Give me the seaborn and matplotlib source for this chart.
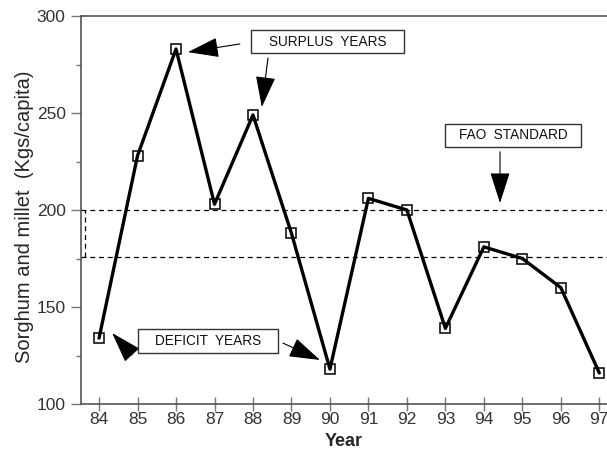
import matplotlib
matplotlib.use("Agg")
import matplotlib.pyplot as plt
import seaborn as sns
import pandas as pd
from matplotlib.ticker import MultipleLocator
from matplotlib.patches import Rectangle

years = [84, 85, 86, 87, 88, 89, 90, 91, 92, 93, 94, 95, 96, 97]
values = [134, 228, 283, 203, 249, 188, 118, 206, 200, 139, 181, 175, 160, 116]
year_labels = ["84", "85", "86", "87", "88", "89", "90", "91", "92", "93", "94", "95", "96", "97"]
fao_upper = 200
fao_lower = 176

sns.set_theme(style="white")
plt.rcParams['font.family'] = ['Liberation Sans', 'DejaVu Sans']

df = pd.DataFrame({"Year": years, "Value": values})

fig = plt.figure(figsize=(6.07, 4.5), dpi=100)
ax = fig.add_axes([0.1334, 0.1022, 0.8666, 0.8622])

sns.lineplot(data=df, x="Year", y="Value", ax=ax, color="black", linewidth=2.4,
             marker="s", markersize=7, markerfacecolor="none",
             markeredgecolor="black", markeredgewidth=1.1)

ax.set_xlim(83.53, 97.2)
ax.set_ylim(100, 300)
ax.set_xticks(years)
ax.set_xticklabels(year_labels)
ax.yaxis.set_major_locator(MultipleLocator(50))
ax.yaxis.set_minor_locator(MultipleLocator(25))

dash = (0, (4, 3))
ax.axhline(fao_upper, color="black", linestyle=dash, linewidth=0.9, zorder=1)
ax.axhline(fao_lower, color="black", linestyle=dash, linewidth=0.9, zorder=1)
ax.plot([83.63, 83.63], [fao_lower, fao_upper], color="black", linestyle=dash, linewidth=0.9)

for s in ["top", "left", "bottom"]:
    ax.spines[s].set_visible(True)
    ax.spines[s].set_color("#555555")
    ax.spines[s].set_linewidth(1.2)
ax.spines["right"].set_visible(False)

ax.tick_params(axis="y", which="major", direction="out", length=7, width=1, color="#777777",
               labelsize=12.5, labelcolor="#333333", left=True, pad=4)
ax.tick_params(axis="y", which="minor", direction="out", length=3.5, width=1, color="#777777", left=True)
ax.tick_params(axis="x", which="major", direction="inout", length=10, width=1, color="#777777",
               labelsize=12.5, labelcolor="#333333", bottom=True, pad=1)

ax.set_xlabel("Year", fontsize=13, fontweight="bold", labelpad=4)
ax.set_ylabel("Sorghum and millet  (Kgs/capita)", fontsize=14.5)
ax.yaxis.set_label_coords(-0.089, 0.482)

# annotation boxes: (x0, y0, x1, y1) in data units
def label_box(x0, y0, x1, y1, text):
    ax.add_patch(Rectangle((x0, y0), x1 - x0, y1 - y0, facecolor="white",
                           edgecolor="#333333", linewidth=1, zorder=4))
    ax.text((x0 + x1) / 2, (y0 + y1) / 2, text, fontsize=9.8, ha="center", va="center",
            zorder=5, color="#111111")

label_box(87.95, 280.9, 91.92, 292.8, "SURPLUS  YEARS")
label_box(93.0, 232.6, 96.52, 244.5, "FAO  STANDARD")
label_box(85.0, 126.4, 88.64, 138.7, "DEFICIT  YEARS")

arrow_kw = dict(arrowstyle="-|>,head_length=1.4,head_width=0.45", color="black", lw=0.8,
                mutation_scale=14, shrinkA=0, shrinkB=0)
ax.annotate("", xy=(86.31, 281.4), xytext=(87.66, 285.6), arrowprops=arrow_kw)
ax.annotate("", xy=(88.23, 253.1), xytext=(88.39, 278.4), arrowprops=arrow_kw)
ax.annotate("", xy=(94.42, 203.6), xytext=(94.42, 230.0), arrowprops=arrow_kw)
ax.annotate("", xy=(84.34, 136.6), xytext=(84.86, 125.3), arrowprops=arrow_kw)
ax.annotate("", xy=(89.74, 122.7), xytext=(88.78, 131.4), arrowprops=arrow_kw)

fig.savefig("out.png", dpi=100)
